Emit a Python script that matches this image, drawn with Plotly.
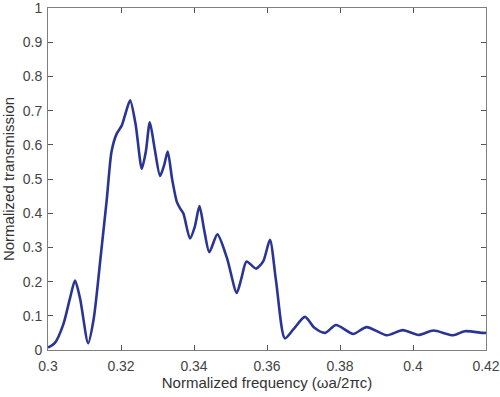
import plotly.graph_objects as go

freq = [0.3000, 0.3019, 0.3042, 0.3060, 0.3074, 0.3088, 0.3110, 0.3125, 0.3145, 0.3161,
        0.3174, 0.3188, 0.3202, 0.3212, 0.3225, 0.3240, 0.3257, 0.3268, 0.3279, 0.3292,
        0.3307, 0.3318, 0.3328, 0.3340, 0.3353, 0.3362, 0.3371, 0.3389, 0.3402, 0.3415,
        0.3428, 0.3442, 0.3464, 0.3490, 0.3517, 0.3530, 0.3544, 0.3570, 0.3590, 0.3608,
        0.3625, 0.3649, 0.3672, 0.3704, 0.3730, 0.3759, 0.3789, 0.3836, 0.3873, 0.3928,
        0.3972, 0.4015, 0.4056, 0.4110, 0.4142, 0.4192, 0.4200]
trans = [0.007, 0.021, 0.075, 0.150, 0.203, 0.150, 0.020, 0.090, 0.280, 0.440,
         0.580, 0.632, 0.656, 0.690, 0.730, 0.660, 0.530, 0.580, 0.666, 0.590,
         0.509, 0.540, 0.580, 0.500, 0.433, 0.414, 0.399, 0.326, 0.360, 0.421,
         0.350, 0.286, 0.338, 0.270, 0.167, 0.210, 0.259, 0.238, 0.260, 0.322,
         0.200, 0.034, 0.060, 0.097, 0.065, 0.050, 0.073, 0.047, 0.067, 0.043,
         0.058, 0.044, 0.057, 0.043, 0.055, 0.050, 0.050]

x_ticks = [0.3, 0.32, 0.34, 0.36, 0.38, 0.4, 0.42]
y_ticks = [0, 0.1, 0.2, 0.3, 0.4, 0.5, 0.6, 0.7, 0.8, 0.9, 1]
y_labels = ["0", "0.1", "0.2", "0.3", "0.4", "0.5", "0.6", "0.7", "0.8", "0.9", "1"]

fig = go.Figure()
fig.add_trace(go.Scatter(x=freq, y=trans, mode="lines",
                         line=dict(color="#2a3593", width=2.6, shape="spline", smoothing=0.7)))

axis_common = dict(showline=True, linecolor="#7f7f7f", linewidth=1, mirror="ticks",
                   ticks="inside", ticklen=5, tickcolor="#555555", showgrid=False,
                   zeroline=False, tickfont=dict(size=14, color="#444444"),
                   ticklabeloverflow="allow")
fig.update_xaxes(range=[0.3, 0.42], tickvals=x_ticks, ticktext=[str(v) for v in x_ticks],
                 ticklabelstandoff=3,
                 title=dict(text="Normalized frequency (ωa/2πc)", font=dict(size=15, color="#333333"),
                            standoff=2), **axis_common)
fig.update_yaxes(range=[0, 1], tickvals=y_ticks, ticktext=y_labels,
                 ticklabelstandoff=2,
                 title=dict(text="Normalized transmission", font=dict(size=15, color="#333333"),
                            standoff=4), **axis_common)
fig.update_layout(width=500, height=397, margin=dict(l=48, r=14, t=8, b=47, autoexpand=False),
                  paper_bgcolor="white", plot_bgcolor="white", showlegend=False,
                  font=dict(family="Liberation Sans, Arial, sans-serif"))
fig.write_html("out.html", config={"displayModeBar": False},
               post_script="document.body.style.margin='0';document.body.style.overflow='hidden';")
